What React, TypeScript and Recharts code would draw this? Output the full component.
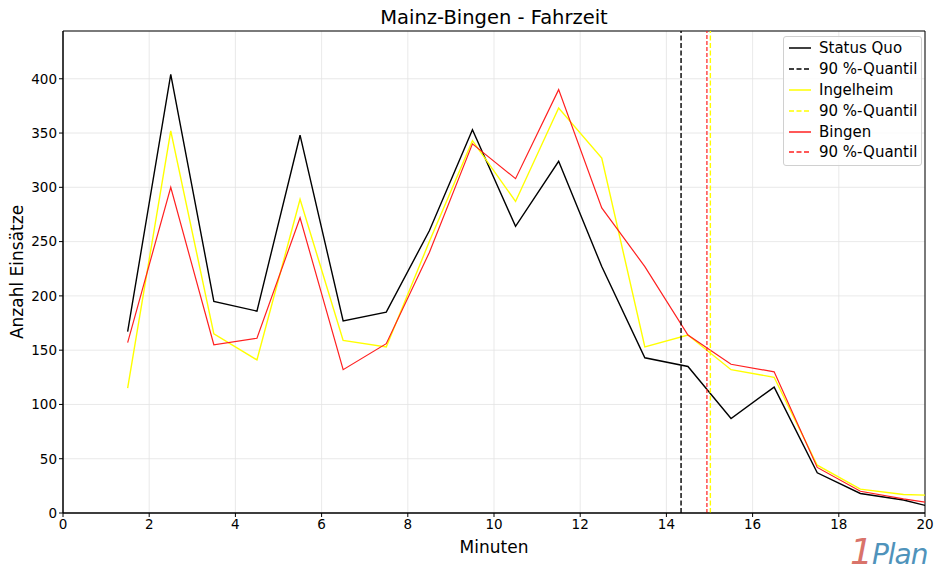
import React from 'react';
import {
  LineChart,
  Line,
  XAxis,
  YAxis,
  CartesianGrid,
  ReferenceLine,
  ReferenceArea,
} from 'recharts';

// minutes (bin centres); the last point lies past the x limit and gets clipped
const minutes = [1.5, 2.5, 3.5, 4.5, 5.5, 6.5, 7.5, 8.5, 9.5, 10.5, 11.5, 12.5, 13.5, 14.5, 15.5, 16.5, 17.5, 18.5, 19.5, 20.5];
const statusQuo = [167, 404, 195, 186, 348, 177, 185, 260, 353, 264, 324, 227, 143, 135, 87, 116, 37, 18, 12, 2];
const ingelheim = [115, 352, 165, 141, 289, 159, 153, 250, 343, 287, 373, 327, 153, 164, 132, 125, 44, 22, 17, 16];
const bingen = [157, 300, 155, 161, 272, 132, 156, 240, 340, 308, 390, 281, 227, 164, 137, 130, 42, 20, 13, 7];

// 90 %-Quantil per scenario
const quantilStatusQuo = 14.34;
const quantilIngelheim = 15.02;
const quantilBingen = 14.94;

const xTicks = [0, 2, 4, 6, 8, 10, 12, 14, 16, 18, 20];
const yTicks = [0, 50, 100, 150, 200, 250, 300, 350, 400];

const data = minutes.map((m, i) => ({
  minute: m,
  statusQuo: statusQuo[i],
  ingelheim: ingelheim[i],
  bingen: bingen[i],
}));

const FONT = '"DejaVu Sans", sans-serif';
const BLACK = '#000000';
const YELLOW = '#ffff00';
const RED = '#ff2020';

const legendItems = [
  { label: 'Status Quo', color: BLACK, dashed: false },
  { label: '90 %-Quantil', color: BLACK, dashed: true },
  { label: 'Ingelheim', color: YELLOW, dashed: false },
  { label: '90 %-Quantil', color: YELLOW, dashed: true },
  { label: 'Bingen', color: RED, dashed: false },
  { label: '90 %-Quantil', color: RED, dashed: true },
];

function LegendBox() {
  return (
    <div
      style={{
        position: 'absolute',
        top: 36,
        left: 783,
        background: 'rgba(255,255,255,0.8)',
        border: '1px solid #d0d0d0',
        borderRadius: 3,
        padding: '1px 4px 2px 5px',
        fontFamily: FONT,
        fontSize: 15,
        color: '#000',
      }}
    >
      {legendItems.map((it, i) => (
        <div key={i} style={{ display: 'flex', alignItems: 'center', height: 20.8 }}>
          <svg width={22} height={4} style={{ marginRight: 8 }}>
            <line
              x1={0}
              y1={2}
              x2={22}
              y2={2}
              stroke={it.color}
              strokeWidth={1.5}
              strokeDasharray={it.dashed ? '5 2.5' : undefined}
            />
          </svg>
          <span>{it.label}</span>
        </div>
      ))}
    </div>
  );
}

export default function App() {
  return (
    <div style={{ position: 'absolute', left: 0, top: 0, width: 936, height: 581, background: '#fff' }}>
      <div
        style={{
          position: 'absolute',
          top: 6,
          left: 63,
          width: 862,
          textAlign: 'center',
          fontFamily: FONT,
          fontSize: 19.5,
          color: '#000',
        }}
      >
        Mainz-Bingen - Fahrzeit
      </div>
      <LineChart
        width={936}
        height={581}
        data={data}
        margin={{ top: 31, right: 11, left: 0, bottom: 0 }}
        style={{ fontFamily: FONT }}
      >
        <CartesianGrid stroke="#e3e3e3" strokeWidth={0.8} />
        <XAxis
          dataKey="minute"
          type="number"
          domain={[0, 20]}
          ticks={xTicks}
          allowDataOverflow
          height={68}
          tickSize={4}
          stroke="#000"
          tick={{ fill: '#000', fontSize: 13.5 }}
          label={{ value: 'Minuten', position: 'insideBottom', offset: 28, fill: '#000', fontSize: 17 }}
        />
        <YAxis
          type="number"
          domain={[0, 444]}
          ticks={yTicks}
          allowDataOverflow
          width={63}
          tickSize={4}
          stroke="#000"
          tick={{ fill: '#000', fontSize: 13.5 }}
          label={{
            value: 'Anzahl Einsätze',
            angle: -90,
            position: 'insideLeft',
            offset: 17,
            style: { textAnchor: 'middle' },
            fill: '#000',
            fontSize: 17,
          }}
        />
        <ReferenceArea x1={0} x2={20} y1={0} y2={444} fill="none" stroke="#000" strokeWidth={1} />
        <Line dataKey="statusQuo" stroke={BLACK} strokeWidth={1.4} dot={false} isAnimationActive={false} />
        <Line dataKey="ingelheim" stroke={YELLOW} strokeWidth={1.4} dot={false} isAnimationActive={false} />
        <Line dataKey="bingen" stroke={RED} strokeWidth={1.2} dot={false} isAnimationActive={false} />
        <ReferenceLine x={quantilStatusQuo} stroke={BLACK} strokeWidth={1.4} strokeDasharray="5 2.5" />
        <ReferenceLine x={quantilBingen} stroke={RED} strokeWidth={1.2} strokeDasharray="4 2" />
        <ReferenceLine x={quantilIngelheim} stroke={YELLOW} strokeWidth={1.4} strokeDasharray="5 2.5" />
      </LineChart>
      <LegendBox />
      <div
        style={{
          position: 'absolute',
          left: 850,
          top: 530,
          fontFamily: FONT,
          fontStyle: 'italic',
          fontSize: 36,
          lineHeight: '44px',
          letterSpacing: -1,
        }}
      >
        <span style={{ color: '#d9736a' }}>1</span>
        <span style={{ color: '#4f93bb', fontSize: 28 }}>Plan</span>
      </div>
    </div>
  );
}
